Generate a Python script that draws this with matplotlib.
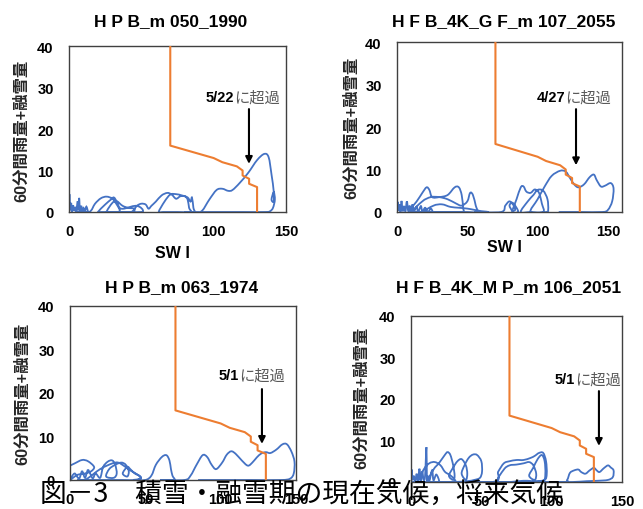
import numpy as np
import matplotlib
matplotlib.use("Agg")
import matplotlib.pyplot as plt
from matplotlib.path import Path
from matplotlib.patches import PathPatch

# ---------------- data ----------------
titles = ["H P B_m 050_1990", "H F B_4K_G F_m 107_2055",
          "H P B_m 063_1974", "H F B_4K_M P_m 106_2051"]
xlims = [150, 160, 150, 150]
xticks = [0, 50, 100, 150]
yticks = [0, 10, 20, 30, 40]
ylabel_text = "60分間雨量+融雪量"
xlabel_text = "SW I"
caption_text = "図－3　積雪・融雪期の現在気候，将来気候"

# critical line (CL)
cl_x = [70, 70, 100, 106, 116, 120, 120, 124.5, 124.5, 130, 130]
cl_y = [40, 16, 13, 12, 11, 10, 8.8, 8, 6.8, 6, 0]

# annotations: date label, label x (split point), label y, arrow x, arrow top, arrow tip
ann_date = ["5/22", "4/27", "5/1", "5/1"]
ann_tx = [114, 119.5, 112, 116.6]
ann_ty = [27.7, 27.0, 24.1, 24.8]
ann_ax = [124.4, 127.3, 127.4, 133.6]
ann_atop = [24.8, 24.2, 20.9, 21.9]
ann_atip = [11.6, 11.0, 8.3, 8.7]

# rainfall + snowmelt vs SWI trajectories
b1_x = [0, 0.3, 0.8, 1.5, 2, 2.8, 3.5, 4.5, 5, 6, 6.5, 7, 7.6, 8.5, 9, 10, 11, 12, 13, 11, 8, 5,
        14, 18, 22, 26, 30, 33, 35, 34, 28, 22,
        20, 25, 29, 31, 33, 35, 38, 42, 46, 49, 51, 50, 40, 30,
        26, 30, 33, 37, 41, 45, 44, 35,
        43, 47, 50, 53, 55, 57, 60, 64, 68, 71, 74, 77, 80, 82, 83, 84, 75, 65,
        62, 66, 70, 74, 78, 82, 84, 85, 86, 86.5, 80,
        88, 92, 97, 102, 106, 110, 113, 118, 124, 130, 135, 138, 140, 141.5, 141.5, 140, 141.5,
        142.3, 141, 139, 136, 120, 100, 92]
b1_y = [0, 4.3, 0.5, 2.2, 0, 1.6, 0.3, 1.2, 0, 2.6, 0.4, 3.4, 0.2, 1.5, 0, 1, 0.2, 1.3, 0, 0, 0, 0,
        0, 2, 3.3, 3.7, 3.2, 1.8, 0.5, 0, 0, 0,
        0, 1.8, 3, 3.5, 2.5, 1, 0.8, 1.2, 1.5, 1.2, 0.5, 0, 0, 0,
        0, 2.2, 2.6, 1.5, 1, 0.8, 0, 0,
        0, 1.5, 2, 1.8, 0.8, 1.5, 2.5, 4, 4.6, 4.2, 3.2, 3.8, 3.8, 3, 1, 0, 0, 0,
        0, 2.5, 4.2, 4.3, 4, 3.5, 2.5, 3.5, 1, 0, 0,
        0, 0.3, 3, 5.3, 5.6, 5.1, 5.3, 7, 9.5, 12.5, 14, 13.2, 9, 5, 2.5, 3, 4.8,
        3, 1, 0.2, 0, 0, 0, 0]

b2_x = [0, 0.5, 1, 1.8, 2.5, 3.2, 4, 5, 6, 7, 8, 9, 10, 11, 12, 14, 15, 17, 18, 20, 22, 24, 25, 20, 12,
        8, 14, 18, 21, 23, 25, 30, 36, 41, 44, 46, 47, 47, 40, 30,
        12, 18, 24, 30, 36, 42, 46, 50, 52, 54, 56, 57, 50, 40,
        20, 26, 32, 38, 44, 50, 55, 60, 65, 55,
        74, 77, 80, 83, 84, 82, 80, 82, 85, 86,
        82, 85, 88, 90, 92, 95, 98, 101, 103, 104, 95,
        88, 93, 97, 100, 104, 107, 107.5, 106,
        95, 100, 105, 110, 116, 120, 123, 126, 129, 133, 137, 140, 142, 145, 148, 152, 154,
        153, 150, 146, 130, 115]
b2_y = [0, 2.4, 0.3, 1.8, 0, 2.6, 0.2, 1.4, 0.1, 2.5, 0.3, 1.5, 0, 1.8, 0.2, 1.2, 0, 1.4, 0.1, 1, 0, 0.8, 0, 0, 0,
        0, 2.5, 4.5, 5.8, 5.2, 3.5, 3.5, 4, 5.8, 5.8, 4, 1, 0, 0, 0,
        0, 2.5, 3.5, 3.5, 3, 2, 1.5, 2.5, 4.5, 4, 1.5, 0, 0, 0,
        0, 1.5, 1.8, 1.2, 1, 0.8, 0.5, 0.2, 0, 0,
        0, 1.5, 2.5, 1.5, 0.5, 0.3, 1.5, 2.2, 1, 0,
        0, 3, 5.8, 6, 4.8, 4.5, 5.3, 4.5, 2, 0, 0,
        0, 2.5, 4, 5.2, 5, 3, 0.5, 0,
        0, 3, 6, 8.5, 9.7, 9.5, 8, 6.5, 5.8, 6.5, 8.2, 8.8, 7.5, 6, 6.2, 6.8, 5.5,
        2.5, 0.5, 0, 0, 0]

b3_x = [0, 3, 8, 12, 16, 14, 10, 5, 2, 0, 3, 6, 8, 10, 12, 15, 17, 20, 22, 25, 28, 30, 31, 29, 24,
        26, 30, 34, 37, 39, 38, 35, 38, 40, 43, 46, 47, 44, 35, 25, 15, 5,
        10, 20, 28, 32, 36, 40, 45, 47, 42,
        50, 54, 57, 61, 64, 66, 67, 68, 69, 60,
        76, 80, 84, 88, 91, 94, 97, 101, 104, 107, 110, 114, 118, 121, 124, 127, 130, 133, 137,
        141, 144, 147, 149, 148.5, 146, 140, 120, 100, 85]
b3_y = [3.3, 3.8, 4.6, 4.3, 3, 2, 1.5, 1.2, 0.5, 0, 1.5, 0.3, 2, 0.5, 2.3, 0.4, 1.5, 0.5, 3, 4.2, 4.5, 3.5, 1.5, 0.5, 0.8,
        2.5, 3.5, 4, 3.5, 2, 0.8, 1.5, 3, 2.5, 1.5, 1, 0.5, 0, 0, 0, 0, 0,
        0, 2.5, 3.8, 4, 3.2, 2.2, 1.2, 0.3, 0,
        0, 1, 3.5, 5.3, 5.7, 4.5, 2.5, 1, 0, 0,
        0, 1, 3.5, 5.7, 5.3, 3.5, 2.5, 4, 5.8, 6.6, 6, 4.5, 3.3, 4, 5.2, 6.1, 6.4, 6.2, 7,
        8.2, 8.2, 6.5, 4.2, 1.5, 0.3, 0, 0, 0, 0]

b4_x = [0, 0.5, 1, 2, 3, 4, 5, 6, 7, 8, 9, 10, 11, 11.3, 12, 13, 15, 16, 18, 20, 16, 8,
        5, 9, 13, 17, 21, 24, 27, 30, 31, 20,
        12, 16, 20, 24, 26, 28, 30, 31, 30, 27, 30, 33, 36, 39, 40, 39, 36, 38, 41, 44, 47, 50,
        50.5, 49, 45, 40, 30, 15,
        58, 62, 66, 70, 75, 80, 85, 88, 91, 94, 96, 96.5, 95, 88, 80,
        62, 66, 70, 75, 80, 84, 87, 89, 88, 84, 87, 90, 93, 95, 95.5, 94, 85, 70,
        108, 111, 113, 116, 119, 121, 124, 127, 130, 132, 134, 137, 140, 142, 144, 143.5, 140,
        133, 125, 115, 100, 80, 60, 40, 20, 0]
b4_y = [0, 3, 0.5, 1.5, 0, 2, 0.3, 3.2, 0.2, 2.5, 0.5, 1.5, 8.4, 0.3, 1.5, 0.2, 2.8, 0.4, 1.8, 0, 0, 0,
        0, 3, 4.5, 4.8, 4, 2.5, 1.8, 1, 0, 0,
        0, 3, 4.6, 6.5, 7.2, 6.5, 4, 1.5, 0.5, 1.5, 3.5, 5, 5.5, 4, 2, 0.5, 2, 4, 5.8, 6.6, 6.5, 5,
        2.5, 1, 0.5, 0.2, 0, 0,
        0, 2.5, 4.5, 5, 5.3, 5.3, 5.8, 6.3, 7, 7, 5, 2, 0.5, 0.2, 0.3,
        0, 3, 4, 4.2, 4.5, 4.8, 4, 2, 0.5, 1.5, 3.5, 5.5, 6.5, 5, 2, 0.3, 0, 0,
        0, 0.5, 2.2, 2.8, 3, 2.4, 2, 2.8, 3.4, 2.8, 2.4, 3.3, 4, 3.5, 2.8, 1.2, 0.5,
        0.3, 0.2, 0, 0, 0, 0, 0, 0, 0]

blue_x = [b1_x, b2_x, b3_x, b4_x]
blue_y = [b1_y, b2_y, b3_y, b4_y]

# ---------------- layout (pixel boxes: left, right, top, bottom) ----------------
W, H = 643, 510
boxes = [(69, 286, 47, 213), (397, 622, 43, 213), (70, 296, 307, 481), (411, 622, 317, 483)]
title_pos = [(171, 22), (504, 22), (182, 288), (509, 288)]
ylab_pos = [(22, 131), (352, 128), (23, 394), (362, 398)]
xlab_pos = [(172, 253), (504, 248), None, None]

BLUE = "#4472C4"
ORANGE = "#ED7D31"
NUM_FONT = ["Liberation Sans", "DejaVu Sans"]
JP = ["Liberation Sans", "Noto Sans CJK JP", "DejaVu Sans"]


def smooth_path(xs, ys):
    P = np.column_stack([xs, ys]).astype(float)
    n = len(P)
    verts = [P[0]]
    codes = [Path.MOVETO]
    for i in range(n - 1):
        p0 = P[i - 1] if i > 0 else P[i]
        p1 = P[i]
        p2 = P[i + 1]
        p3 = P[i + 2] if i + 2 < n else P[i + 1]
        c1 = p1 + (p2 - p0) / 6.0
        c2 = p2 - (p3 - p1) / 6.0
        verts += [c1, c2, p2]
        codes += [Path.CURVE4] * 3
    return Path(verts, codes)


def fx(px):
    return px / W


def fy(py):
    return 1 - py / H


fig = plt.figure(figsize=(W / 100, H / 100), dpi=100)

for k in range(4):
    l, r, t, b = boxes[k]
    ax = fig.add_axes([l / W, 1 - b / H, (r - l) / W, (b - t) / H])
    ax.set_xlim(0, xlims[k])
    ax.set_ylim(0, 40)
    ax.set_xticks(xticks)
    ax.set_yticks(yticks)
    ax.tick_params(length=0, labelsize=10.5)
    ax.tick_params(axis="y", pad=11)
    ax.tick_params(axis="x", pad=9)
    for lab in ax.get_xticklabels() + ax.get_yticklabels():
        lab.set_fontfamily(NUM_FONT)
        lab.set_fontweight("bold")
    for s in ax.spines.values():
        s.set_color("#404040")
        s.set_linewidth(1.0)

    patch = PathPatch(smooth_path(blue_x[k], blue_y[k]), facecolor="none",
                      edgecolor=BLUE, lw=1.3, zorder=2)
    ax.add_patch(patch)
    ax.plot(cl_x, cl_y, color=ORANGE, lw=1.5, zorder=3)

    # annotation
    ax.text(ann_tx[k], ann_ty[k], ann_date[k], ha="right", va="center",
            fontsize=10.5, fontweight="bold", family=NUM_FONT, color="black")
    ax.text(ann_tx[k], ann_ty[k], "に超過", ha="left", va="center",
            fontsize=11, family=["Noto Sans CJK JP", "DejaVu Sans"], color="#595959")
    ax.annotate("", xy=(ann_ax[k], ann_atip[k]), xytext=(ann_ax[k], ann_atop[k]),
                arrowprops=dict(arrowstyle="-|>", color="black", lw=1.5,
                                mutation_scale=10, shrinkA=0, shrinkB=0))

    tx, ty = title_pos[k]
    fig.text(fx(tx), fy(ty), titles[k], ha="center", va="center",
             fontsize=12.5, fontweight="bold", family=["Liberation Sans", "DejaVu Sans"])
    yx, yy = ylab_pos[k]
    fig.text(fx(yx), fy(yy), ylabel_text, ha="center", va="center", rotation=90,
             fontsize=11.8, fontweight="bold", family=JP, color="#262626")
    if xlab_pos[k] is not None:
        xx, xy = xlab_pos[k]
        fig.text(fx(xx), fy(xy), xlabel_text, ha="center", va="center",
                 fontsize=11.5, fontweight="bold", family=["Liberation Sans", "DejaVu Sans"])

fig.text(fx(40), fy(494), caption_text, ha="left", va="center", fontsize=19.3,
         family=["Noto Sans CJK JP", "DejaVu Sans"], color="black", zorder=10)

fig.savefig("out.png", dpi=100)
